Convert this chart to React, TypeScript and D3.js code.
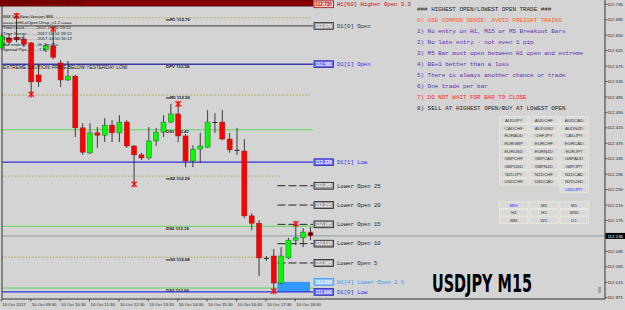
import React from 'react';
import * as d3 from 'd3';

const W = 625;
const H = 310;
const BG = '#d4d4d4';

// ---- candle data (M15, index 0 = 08:30) ----
const opens = [112.622, 112.648, 112.650, 112.645, 112.635, 112.552, 112.617, 112.627, 112.583, 112.539, 112.549, 112.415, 112.350, 112.402, 112.396, 112.422, 112.402, 112.430, 112.368, 112.345, 112.337, 112.381, 112.404, 112.430, 112.451, 112.394, 112.329, 112.360, 112.365, 112.430, 112.430, 112.386, 112.358, 112.355, 112.187, 112.168, 112.078, 112.083, 112.013, 112.078, 112.124, 112.130, 112.145];
const closes = [112.653, 112.637, 112.643, 112.632, 112.534, 112.534, 112.627, 112.598, 112.539, 112.549, 112.415, 112.352, 112.402, 112.396, 112.422, 112.402, 112.430, 112.368, 112.345, 112.337, 112.381, 112.404, 112.430, 112.451, 112.394, 112.329, 112.360, 112.368, 112.430, 112.428, 112.386, 112.358, 112.355, 112.187, 112.168, 112.078, 112.075, 112.013, 112.083, 112.124, 112.130, 112.145, 112.135];
const highs = [112.661, 112.658, 112.702, 112.655, 112.637, 112.578, 112.632, 112.668, 112.591, 112.588, 112.552, 112.427, 112.427, 112.417, 112.440, 112.435, 112.448, 112.435, 112.370, 112.350, 112.417, 112.415, 112.448, 112.477, 112.474, 112.399, 112.370, 112.402, 112.461, 112.453, 112.461, 112.402, 112.415, 112.386, 112.194, 112.176, 112.083, 112.101, 112.106, 112.130, 112.163, 112.155, 112.158];
const lows = [112.617, 112.630, 112.637, 112.624, 112.505, 112.521, 112.611, 112.593, 112.521, 112.536, 112.391, 112.345, 112.347, 112.363, 112.378, 112.378, 112.378, 112.363, 112.272, 112.332, 112.332, 112.368, 112.391, 112.427, 112.378, 112.313, 112.313, 112.324, 112.363, 112.402, 112.383, 112.350, 112.345, 112.181, 112.150, 112.031, 112.070, 111.995, 112.010, 112.075, 112.111, 112.106, 112.124];

const starHighs = [2, 7, 24, 40];
const starLows = [4, 18, 37];

const timeLabels = ['10 Oct 2017', '10 Oct 09:30', '10 Oct 10:30', '10 Oct 11:30', '10 Oct 12:30', '10 Oct 13:30', '10 Oct 14:30', '10 Oct 15:30', '10 Oct 16:30', '10 Oct 17:30', '10 Oct 18:30'];
const timeLabelIdx = [0, 4, 8, 12, 16, 20, 24, 28, 32, 36, 40];

const priceTicks = [112.735, 112.695, 112.655, 112.615, 112.575, 112.535, 112.495, 112.455, 112.415, 112.375, 112.335, 112.295, 112.255, 112.215, 112.175, 112.135, 112.095, 112.055, 112.015, 111.975];
const currentPrice = 112.135;

const dottedNames = ['mR1', 'mR0', 'mS2', 'mS3'];
const dottedValues = [112.70, 112.50, 112.29, 112.08];

const pivotNames = ['DPV', 'DS1', 'DS2', 'DS3'];
const pivotValues = [112.58, 112.41, 112.16, 112.00];
const pivotKinds = ['blue', 'green', 'green', 'green'];

const levelValues = [112.735, 112.679, 112.580, 112.326, 112.265, 112.215, 112.165, 112.115, 112.065, 112.016, 111.990];
const levelTexts = ['H1[60] Higher Open 3.3', 'D1[0] Open', 'D1[1] Open', 'D1[1] Low', 'Lower Open 25', 'Lower Open 20', 'Lower Open 15', 'Lower Open 10', 'Lower Open 5', 'H1[4] Lower Open 2.6', 'D1[0] Low'];
const levelKinds = ['high', 'grey', 'blue', 'blue', 'dash', 'dash', 'dash', 'dash', 'dash', 'zone', 'blue'];

const infoLines = [
  '888 TenGlow Version 888',
  '==== mHiLoOpen Unsp_v1.2 ====',
  'Time Local..........2017.10.10 19:13',
  'Time Server.........2017.10.10 19:12',
  'Time GMT............2017.10.10 16:12',
  'Bar ends in..........0h 2m 41s',
  'Spread Pips..........1.3',
];

const rules = [
  '### HIGHEST OPEN/LOWEST OPEN TRADE ###',
  '0) USE COMMON SENSE!  AVOID FREIGHT TRAINS',
  '1) No entry on H1, M15 or M5 Breakout Bars',
  '2) No late entry - not even 1 pip',
  '3) M5 Bar must open between H1 open and extreme',
  '4) BE+1 better than a loss',
  '5) There is always another chance or trade',
  '6) One trade per bar',
  '7) DO NOT WAIT FOR BAR TO CLOSE',
  '8) SELL AT HIGHEST OPEN/BUY AT LOWEST OPEN',
];
const ruleColors = ['#222', '#ff5a28', '#5a28b4', '#5a28b4', '#5a28b4', '#5a28b4', '#5a28b4', '#5a28b4', '#ff2020', '#222'];

const pairs = [
  ['AUDJPY', 'AUDCHF', 'AUDCAD'],
  ['CADCHF', 'AUDUSD', 'AUDNZD'],
  ['EURAUD', 'CHFJPY', 'CADJPY'],
  ['EURGBP', 'EURCHF', 'EURCAD'],
  ['EURUSD', 'EURNZD', 'EURJPY'],
  ['GBPCHF', 'GBPCAD', 'GBPAUD'],
  ['GBPUSD', 'GBPNZD', 'GBPJPY'],
  ['NZDJPY', 'NZDCHF', 'NZDCAD'],
  ['USDCHF', 'USDCAD', 'NZDUSD'],
  ['', '', 'USDJPY'],
];
const timeframes = [
  ['M15', 'M5', 'M1'],
  ['H4', 'H1', 'M30'],
  ['MN', 'W1', 'D1'],
];
const activeLabels = ['USDJPY', 'M15'];

const SANS = 'Liberation Sans, Arial, sans-serif';
const MONO = 'Liberation Mono, Courier New, monospace';

function Star({ cx, cy }: { cx: number; cy: number }) {
  const r = 2.6;
  return (
    <g stroke="#ff1010" strokeWidth={1.3}>
      <line x1={cx - r} y1={cy - r} x2={cx + r} y2={cy + r} />
      <line x1={cx - r} y1={cy + r} x2={cx + r} y2={cy - r} />
      <line x1={cx} y1={cy - r - 0.5} x2={cx} y2={cy + r + 0.5} />
    </g>
  );
}

export default function App() {
  const x = d3.scaleLinear().domain([0, 42]).range([1.8, 310.5]);
  const y = d3.scaleLinear().domain([111.975, 112.735]).range([297.7, 4.3]);

  const left = 2;
  const right = 605;
  const bottom = 299;
  const boxX = 313;
  const lastI = opens.length - 1;

  const levelStyle: Record<string, any> = {
    high: { fill: '#f3d2d2', stroke: '#a00000', text: '#c00000', name: '#d00000' },
    grey: { fill: '#9c9c9c', stroke: '#333', text: '#fff', name: '#333', line: '#5a5a5a' },
    blue: { fill: '#6b6bff', stroke: '#2a2aa0', text: '#fff', name: '#2a2aff', line: '#3030d8' },
    dash: { fill: '#9c9c9c', stroke: '#222', text: '#fff', name: '#222' },
    zone: { fill: '#8ec2ff', stroke: '#3399ff', text: '#fff', name: '#3399ff' },
  };

  return (
    <svg width={W} height={H} style={{ position: 'absolute', left: 0, top: 0 }} xmlns="http://www.w3.org/2000/svg">
      <rect x={0} y={0} width={W} height={H} fill={BG} />

      {/* top H1 bar */}
      <rect x={0} y={0} width={boxX} height={y(levelValues[0]) + 1.8} fill="#8a0000" stroke="#3a0000" strokeWidth={0.6} />
      <text x={3} y={4.4} fontSize={3.6} fontFamily={SANS} fill="#2a0000">▼ USDJPY,M15  112.135 112.736 112.734 112.735</text>

      {/* dotted murrey levels */}
      {dottedValues.map((v, k) => (
        <g key={'d' + k}>
          <line x1={left} x2={v < 112.3 ? 280 : 310} y1={y(v)} y2={y(v)} stroke="#a09a2a" strokeWidth={0.8} strokeDasharray="1.5,1.5" />
          <text x={166} y={y(v) + 3.6} fontSize={4.4} fontFamily={SANS} fill="#111" fontWeight="bold">{dottedNames[k] + '   ' + v.toFixed(2)}</text>
        </g>
      ))}

      {/* pivot lines */}
      {pivotValues.map((v, k) => (
        <g key={'p' + k}>
          <line x1={left} x2={boxX} y1={y(v)} y2={y(v)} stroke={pivotKinds[k] === 'blue' ? '#3a3ab0' : '#5ad85a'} strokeWidth={pivotKinds[k] === 'blue' ? 1.5 : 1} />
          <text x={166} y={y(v) + 3.6} fontSize={4.4} fontFamily={SANS} fill="#111" fontWeight="bold">{pivotNames[k] + '   ' + v.toFixed(2)}</text>
        </g>
      ))}

      {/* level lines */}
      {levelValues.map((v, k) => {
        const kind = levelKinds[k];
        const st = levelStyle[kind];
        if (kind === 'grey' || (kind === 'blue' && k !== 2)) {
          return <line key={'l' + k} x1={left} x2={boxX} y1={y(v)} y2={y(v)} stroke={st.line} strokeWidth={1.2} />;
        }
        if (kind === 'dash') {
          return <line key={'l' + k} x1={x(37.5)} x2={boxX} y1={y(v)} y2={y(v)} stroke="#111" strokeWidth={0.9} strokeDasharray="8,3" />;
        }
        if (kind === 'zone') {
          return <rect key={'l' + k} x={x(37.5)} y={y(v)} width={boxX - 3 - x(37.5)} height={y(levelValues[k + 1]) - y(v)} fill="#3399ff" />;
        }
        return null;
      })}

      {/* current price line */}
      <line x1={left} x2={right} y1={y(currentPrice)} y2={y(currentPrice)} stroke="#8a9aab" strokeWidth={1} />

      {/* wicks */}
      {opens.map((o, i) => (
        <line key={'w' + i} x1={x(i)} x2={x(i)} y1={y(highs[i])} y2={y(lows[i])} stroke="#2a2a2a" strokeWidth={0.9} />
      ))}
      {/* bodies */}
      {opens.map((o, i) => {
        const c = closes[i];
        const up = c >= o;
        const top = y(Math.max(o, c));
        const h = Math.max(1, Math.abs(y(o) - y(c)));
        const cur = i === lastI;
        if (h <= 1.2 && !cur) {
          return <line key={'b' + i} x1={x(i) - 2.5} x2={x(i) + 2.5} y1={top + 0.5} y2={top + 0.5} stroke="#222" strokeWidth={1} />;
        }
        return (
          <rect key={'b' + i} x={x(i) - 2.5} y={top} width={5} height={h}
            fill={cur ? '#111' : up ? '#00ff00' : '#ff0000'}
            stroke={cur ? '#ff3030' : up ? '#3a5a3a' : '#8a2020'} strokeWidth={cur ? 1 : 0.5} rx={cur ? 1.5 : 0} />
        );
      })}

      {/* stars */}
      {starHighs.map((i) => <Star key={'sh' + i} cx={x(i)} cy={y(highs[i]) - 1.2} />)}
      {starLows.map((i) => <Star key={'sl' + i} cx={x(i)} cy={y(lows[i]) + 1.2} />)}

      {/* level boxes + names */}
      {levelValues.map((v, k) => {
        const st = levelStyle[levelKinds[k]];
        const cy = y(v);
        return (
          <g key={'lb' + k}>
            <rect x={boxX + 1} y={cy - 3.4} width={19.5} height={6.8} fill={st.fill} stroke={st.stroke} strokeWidth={0.8} />
            <text x={boxX + 10.7} y={cy + 1.7} fontSize={4.6} fontFamily={SANS} fontWeight="bold" fill={st.text} textAnchor="middle">{v.toFixed(3)}</text>
            <text x={337} y={cy + 1.8} fontSize={5.6} fontFamily={MONO} fill={st.name}>{levelTexts[k]}</text>
          </g>
        );
      })}

      {/* info text */}
      {infoLines.map((t, k) => (
        <text key={'i' + k} x={3} y={18 + k * 5.5} fontSize={4.4} fontFamily={SANS} fill="#111">{t}</text>
      ))}
      <text x={3} y={68.8} fontSize={4.8} fontFamily={SANS} fill="#111">EXTREME CAUTION! PRICE BELOW YESTERDAY LOW</text>

      {/* rules */}
      {rules.map((t, k) => (
        <text key={'r' + k} x={417} y={11 + k * 11} fontSize={5.9} fontFamily={MONO} fill={ruleColors[k]}>{t}</text>
      ))}

      {/* pair buttons */}
      {pairs.map((row, r) => row.map((p, c) => p ? (
        <g key={'pb' + r + c}>
          <rect x={499.5 + c * 30.2} y={116.8 + r * 7.7} width={28.5} height={6.6} fill="#d9d9d9" stroke="#ecebdc" strokeWidth={0.8} />
          <text x={513.7 + c * 30.2} y={121.8 + r * 7.7} fontSize={4.4} fontFamily={SANS} textAnchor="middle" fill={activeLabels.includes(p) ? '#2a2aff' : '#333'}>{p}</text>
        </g>
      ) : null))}
      {timeframes.map((row, r) => row.map((p, c) => (
        <g key={'tb' + r + c}>
          <rect x={499.5 + c * 30.2} y={201.8 + r * 7.6} width={28.5} height={6.6} fill="#d9d9d9" stroke="#ecebdc" strokeWidth={0.8} />
          <text x={513.7 + c * 30.2} y={206.8 + r * 7.6} fontSize={4.4} fontFamily={SANS} textAnchor="middle" fill={activeLabels.includes(p) ? '#2a2aff' : '#333'}>{p}</text>
        </g>
      )))}

      {/* big symbol text */}
      <text x={432} y={292} fontSize={24} fontFamily="DejaVu Sans Condensed, DejaVu Sans, sans-serif" fontWeight="bold" fill="#000" textLength={100} lengthAdjust="spacingAndGlyphs">USDJPY M15</text>
      <text x={0} y={0} fontSize={3.5} fontFamily={SANS} fill="#444" transform={`translate(601,293) rotate(-90)`}>888</text>

      {/* frame */}
      <line x1={left} x2={left} y1={6} y2={bottom} stroke="#333" strokeWidth={1} />
      <line x1={right} x2={right} y1={0} y2={bottom} stroke="#333" strokeWidth={1} />
      <line x1={left} x2={right} y1={bottom} y2={bottom} stroke="#333" strokeWidth={1} />

      {/* price axis */}
      {priceTicks.map((p) => (
        <g key={'pt' + p}>
          <line x1={right} x2={right + 2.5} y1={y(p)} y2={y(p)} stroke="#333" strokeWidth={0.8} />
          <text x={607.5} y={y(p) + 1.6} fontSize={4.4} fontFamily={SANS} fill="#222">{p.toFixed(3)}</text>
        </g>
      ))}
      <rect x={605.5} y={y(currentPrice) - 3} width={19.5} height={6} fill="#000" />
      <text x={607.5} y={y(currentPrice) + 1.6} fontSize={4.4} fontFamily={SANS} fill="#fff">{currentPrice.toFixed(3)}</text>

      {/* time axis */}
      {timeLabelIdx.map((ti, k) => (
        <g key={'tt' + k}>
          <line x1={x(ti) - 0.5} x2={x(ti) - 0.5} y1={bottom} y2={bottom + 2.5} stroke="#333" strokeWidth={0.8} />
          <text x={x(ti) + 0.5} y={306} fontSize={4.3} fontFamily={SANS} fill="#222">{timeLabels[k]}</text>
        </g>
      ))}
    </svg>
  );
}
